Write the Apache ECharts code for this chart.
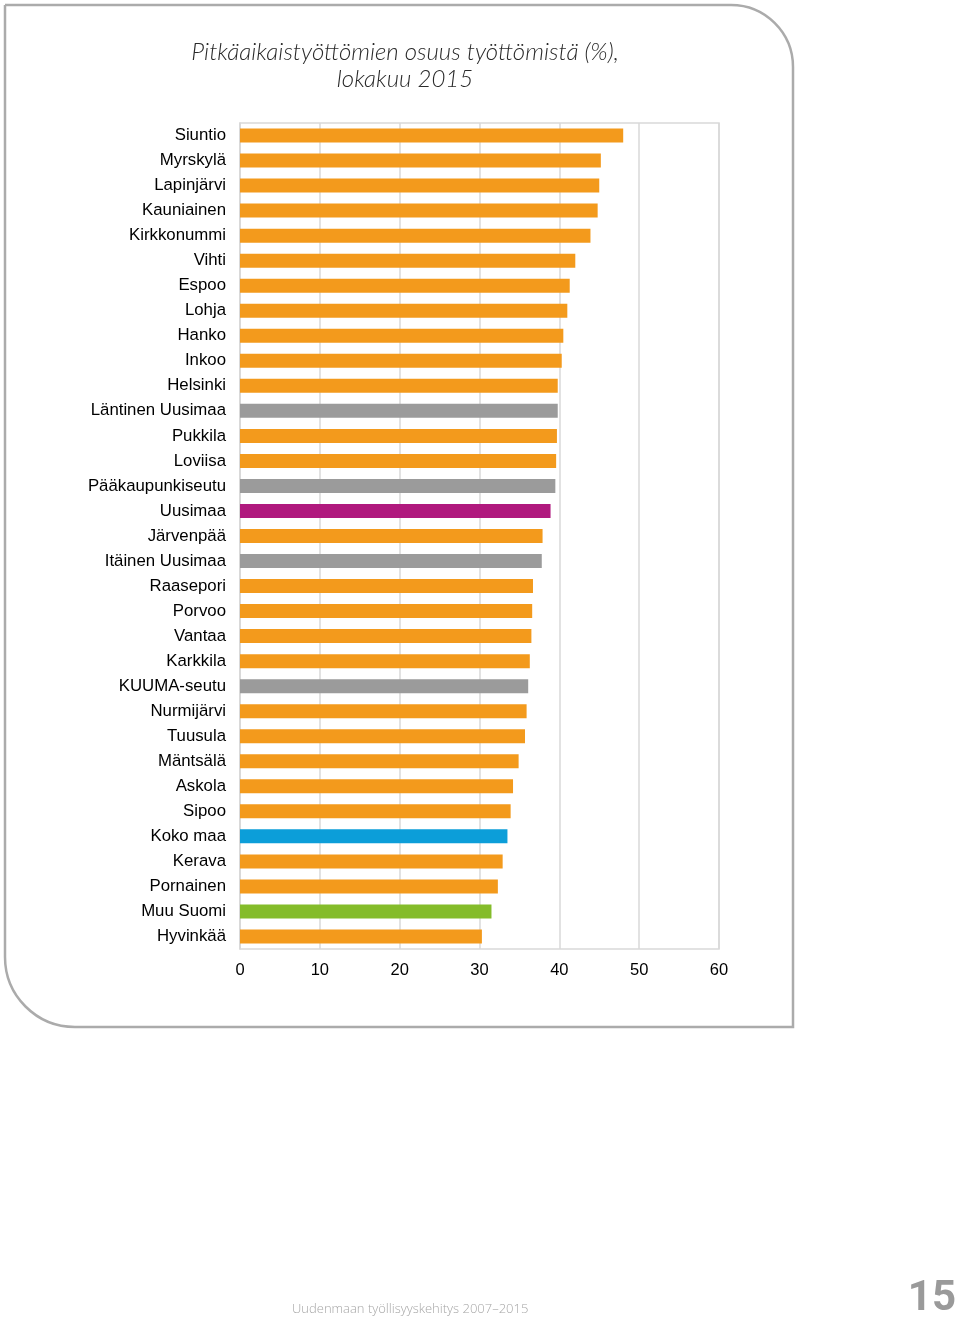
<!DOCTYPE html>
<html>
<head>
<meta charset="utf-8">
<script src="https://cdn.jsdelivr.net/npm/echarts@6/dist/echarts.min.js"></script>
<style>
html,body{margin:0;padding:0;background:#fff;}
#chart{width:960px;height:1320px;}
</style>
</head>
<body>
<div id="chart"></div>
<script>
// ---- data ----
const categories = ["Siuntio","Myrskylä","Lapinjärvi","Kauniainen","Kirkkonummi","Vihti","Espoo","Lohja","Hanko","Inkoo","Helsinki","Läntinen Uusimaa","Pukkila","Loviisa","Pääkaupunkiseutu","Uusimaa","Järvenpää","Itäinen Uusimaa","Raasepori","Porvoo","Vantaa","Karkkila","KUUMA-seutu","Nurmijärvi","Tuusula","Mäntsälä","Askola","Sipoo","Koko maa","Kerava","Pornainen","Muu Suomi","Hyvinkää"];
const values = [48.0,45.2,45.0,44.8,43.9,42.0,41.3,41.0,40.5,40.3,39.8,39.8,39.7,39.6,39.5,38.9,37.9,37.8,36.7,36.6,36.5,36.3,36.1,35.9,35.7,34.9,34.2,33.9,33.5,32.9,32.3,31.5,30.3];
// area type of each category: m = municipality, s = sub-region, u = Uusimaa, k = whole country, o = rest of Finland
const areaType = ["m","m","m","m","m","m","m","m","m","m","m","s","m","m","s","u","m","s","m","m","m","m","s","m","m","m","m","m","k","m","m","o","m"];
const xTicks = [0,10,20,30,40,50,60];
const titleText = "Pitkäaikaistyöttömien osuus työttömistä (%),\nlokakuu 2015";
const footerText = "Uudenmaan työllisyyskehitys 2007–2015";
const pageNumber = "15";

const typeColor = {m:"#F39A1C", s:"#9B9B9B", u:"#B0197E", k:"#0C9ED9", o:"#84BC2A"};

const chart = echarts.init(document.getElementById('chart'), null, {renderer:'canvas'});
chart.setOption({
  animation:false,
  backgroundColor:'#fff',
  title:{
    text:titleText,
    left:400, top:34, textAlign:'center',
    textStyle:{fontFamily:'Lato', fontStyle:'italic', fontWeight:300, fontSize:24, color:'#2a2a2a', lineHeight:27}
  },
  graphic:[
    {type:'rect', z:-1, silent:true,
     shape:{x:5, y:5, width:788, height:1022, r:[0,62,0,70]},
     style:{fill:'none', stroke:'#ababab', lineWidth:2.5}},
    {type:'text', left:292, top:1303, style:{text:footerText, fill:'#a6a6a6', fontSize:13, fontFamily:'Open Sans', fontWeight:300}},
    {type:'text', right:4, top:1278, style:{text:pageNumber, fill:'#9a9a9a', fontSize:42, fontFamily:'Roboto', fontWeight:'bold'}}
  ],
  grid:{left:240, top:123, width:479, height:826, show:true, borderColor:'#d9d9d9', borderWidth:1.5, containLabel:false},
  xAxis:{
    type:'value', min:0, max:60, interval:10,
    axisLine:{show:false}, axisTick:{show:false},
    splitLine:{show:true, lineStyle:{color:'#d9d9d9', width:1.5}},
    axisLabel:{margin:13, fontSize:16.5, color:'#000', fontFamily:'Liberation Sans',
      formatter:v => xTicks.includes(v) ? String(v) : ''}
  },
  yAxis:{
    type:'category', data:categories, inverse:true,
    axisLine:{show:true, lineStyle:{color:'#d9d9d9', width:1.5}}, axisTick:{show:false},
    axisLabel:{margin:14, fontSize:16.8, color:'#000', fontFamily:'Liberation Sans'}
  },
  series:[{
    type:'bar', barWidth:14,
    data:values.map((v,i)=>({value:v, itemStyle:{color:typeColor[areaType[i]]}}))
  }]
});
</script>
</body>
</html>
